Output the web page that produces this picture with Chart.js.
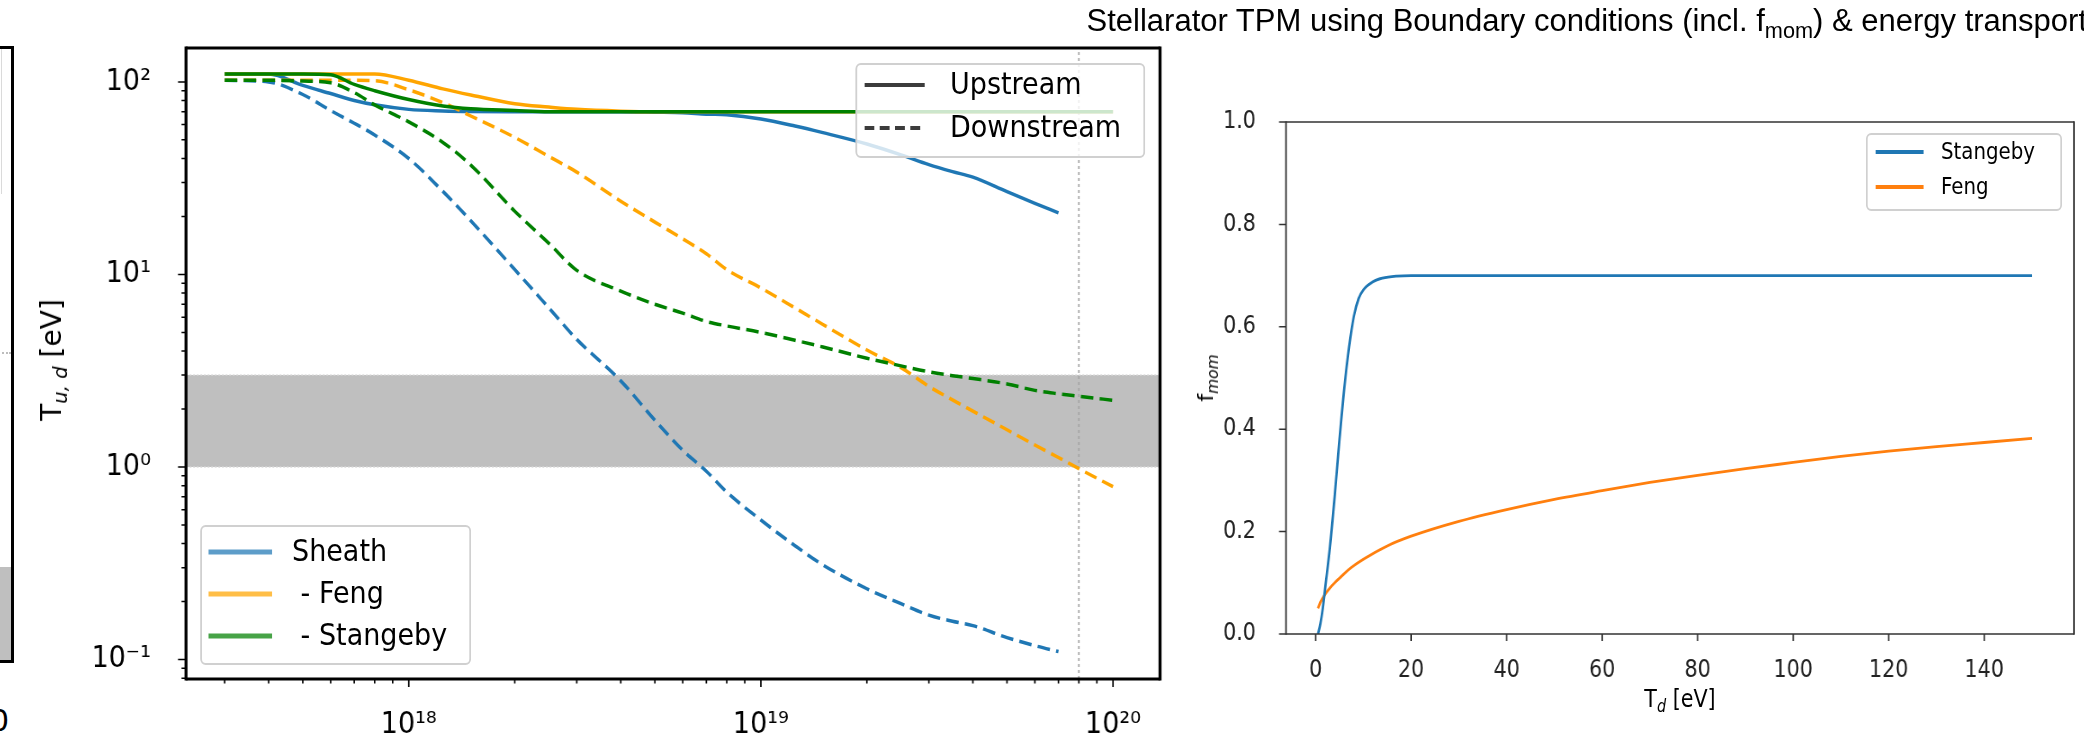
<!DOCTYPE html>
<html>
<head>
<meta charset="utf-8">
<title>Stellarator TPM</title>
<script src="https://cdn.jsdelivr.net/npm/chart.js@4.4.1/dist/chart.umd.min.js"></script>
<style>
  html, body { margin: 0; padding: 0; background: #fff; }
  body { position: relative; width: 2084px; height: 737px; overflow: hidden; font-family: "DejaVu Sans", sans-serif; color: #000; }
  .panel { position: absolute; top: 0; height: 737px; transform-origin: 0 0; }
  .panel canvas { position: absolute; left: 0; top: 0; }
  .txt { position: absolute; white-space: pre; line-height: 1; }
  .lgbox { position: absolute; box-sizing: border-box; border: 2px solid #d0d0d0; border-radius: 6px; background: rgba(255,255,255,0.8); }
  .rot { position: absolute; white-space: pre; line-height: 1; transform: translate(-50%, -50%) rotate(-90deg); }
  sub { font-size: 70%; vertical-align: -0.3em; line-height: 0; }
  #left-frame { position: absolute; left: -120px; top: 46px; width: 134px; height: 617px; box-sizing: border-box; border: 3px solid #000; overflow: hidden; }
  #title { position: absolute; right: -3px; top: 2px; font-family: "Liberation Sans", Arial, sans-serif; font-size: 31px; white-space: pre; line-height: 1.2; }
</style>
</head>
<body>

<div id="left-frame">
  <div style="position:absolute;left:0;right:0;top:518px;bottom:0;background:#bfbfbf"></div>
  <div style="position:absolute;left:0;right:0;top:303px;border-top:2px dotted #bdbdbd"></div>
  <div style="position:absolute;left:0;width:118px;top:0;height:145px;border-right:1.5px solid #dadada"></div>
</div>
<div class="txt" style="left:-10px;top:706px;font-size:30px">0</div>

<div class="panel" id="mid"><canvas id="midChart"></canvas></div>
<div class="panel" id="right"><canvas id="rightChart"></canvas></div>

<div class="rot" style="left:52px;top:360px;font-size:28px">T<sub><i>u, d</i></sub> [eV]</div>
<div class="rot" style="left:1206px;top:378px;font-size:22px">f<sub><i>mom</i></sub></div>
<div id="title">Stellarator TPM using Boundary conditions (incl. f<sub>mom</sub>) &amp; energy transport</div>

<script>
// ---------- left chart: upstream / downstream temperature vs density ----------
const densities    = [3e17, 4e17, 5e17, 6e17, 7e17, 8e17, 1e18, 1.25e18, 1.5e18, 2e18,
                      2.5e18, 3e18, 4e18, 5e18, 6e18, 7e18, 8e18, 1e19, 1.25e19, 1.5e19,
                      2e19, 2.5e19, 3e19, 3.5e19, 4e19, 5e19, 6e19, 7e19, 8e19, 1e20];
const sheathUp     = [110, 110, 96, 87, 80, 76, 72, 70.7, 70.2, 70,
                      70, 70, 70, 69.6, 69.2, 68, 67.5, 64.2, 59, 54.5,
                      47.6, 41.8, 37.2, 34.2, 32, 26.9, 23.4, 20.9, null, null];
const sheathDown   = [102, 100, 86, 71, 61, 53, 40, 27, 19, 10.6,
                      6.7, 4.6, 2.8, 1.75, 1.22, 0.95, 0.74, 0.53, 0.39, 0.31,
                      0.233, 0.195, 0.17, 0.158, 0.15, 0.13, 0.118, 0.11, null, null];
const fengUp       = [110, 110, 110, 110, 110, 110, 102, 92, 85.5, 77,
                      74, 72, 70.5, 70, 70, 70, 70, 70, 70, 70,
                      70, 70, 70, 70, 70, 70, 70, 70, 70, 70];
const fengDown     = [102, 102, 102, 102, 102, 101.5, 91, 78, 66.5, 51.5,
                      41, 34, 24, 18.7, 15.3, 12.8, 10.6, 8.5, 6.7, 5.5,
                      4.05, 3.28, 2.62, 2.23, 1.95, 1.56, 1.3, 1.12, 0.98, 0.79];
const stangebyUp   = [110, 110, 110, 109, 97, 90, 81, 75, 72.5, 71,
                      70, 70, 70, 70, 70, 70, 70, 70, 70, 70,
                      70, 70, 70, 70, 70, 70, 70, 70, 70, 70];
const stangebyDown = [102, 102, 101, 99, 88, 76, 62, 48.5, 37, 21.3,
                      14.5, 10.5, 8.2, 7, 6.3, 5.7, 5.4, 5.0, 4.55, 4.2,
                      3.67, 3.35, 3.12, 2.98, 2.88, 2.7, 2.5, 2.4, 2.33, 2.22];
const detachBand   = [1, 3];          // shaded T range
const markerDensity = 8e19;           // dotted vertical line
const midXRange = [2.33e17, 1.36e20];
const midYRange = [0.0792, 150];
const midXTicks = [1e18, 1e19, 1e20];
const midXTickLabels = ['10\u00b9\u2078', '10\u00b9\u2079', '10\u00b2\u2070'];
const midYTicks = [0.1, 1, 10, 100];
const midYTickLabels = ['10\u207b\u00b9', '10\u2070', '10\u00b9', '10\u00b2'];

// ---------- right chart: f_mom vs T_d ----------
const stangebyT = [0.5, 1, 1.5, 2, 3, 4, 5, 6, 7, 8, 9, 10, 12, 14, 17, 20, 40, 80, 120, 150];
const stangebyF = [0.0, 0.02, 0.05, 0.09, 0.17, 0.27, 0.38, 0.48, 0.56, 0.62, 0.655, 0.672, 0.688, 0.695, 0.699, 0.7, 0.7, 0.7, 0.7, 0.7];
const fengT = [0.5, 1, 2, 3, 4, 5, 6, 7.5, 10, 15, 20, 30, 40, 50, 60, 70, 80, 90, 100, 110, 120, 130, 140, 150];
const fengF = [0.05, 0.062, 0.078, 0.09, 0.1, 0.109, 0.118, 0.13, 0.146, 0.172, 0.191, 0.22, 0.243, 0.263, 0.28, 0.296, 0.31, 0.323, 0.335, 0.347, 0.357, 0.366, 0.374, 0.382];
const rightXRange = [-6.2, 158.8];
const rightXTicks = [0, 20, 40, 60, 80, 100, 120, 140];
const rightYTicks = [0, 0.2, 0.4, 0.6, 0.8, 1.0];
const rightYTickLabels = ['0.0', '0.2', '0.4', '0.6', '0.8', '1.0'];

// ---------- layout (page pixels) ----------
const MID = { left: 40, width: 1150, squeeze: 0.9, area: { left: 186, right: 1160, top: 48, bottom: 679 } };
const RIGHT = { left: 1190, width: 894, squeeze: 0.86, area: { left: 1286, right: 2074, top: 122, bottom: 634 } };

const C0 = '#1f77b4', ORANGE = '#ffa500', GREEN = '#008000';
const DASH = [14, 7];
const LW = 3.5;

function setupPanel(p, id) {
  const el = document.getElementById(id);
  p.el = el;
  p.w = Math.round(p.width / p.squeeze);
  p.ux = x => (x - p.left) / p.squeeze;
  el.style.left = p.left + 'px';
  el.style.width = p.w + 'px';
  el.style.transform = 'scaleX(' + p.squeeze + ')';
  const cv = el.querySelector('canvas');
  cv.width = p.w; cv.height = 737;
  cv.style.width = p.w + 'px'; cv.style.height = '737px';
  return cv;
}

function logTicks(min, max) {
  const out = [];
  for (let e = Math.floor(Math.log10(min)); e <= Math.ceil(Math.log10(max)); e++) {
    for (let k = 1; k <= 9; k++) {
      const v = k * Math.pow(10, e);
      if (v >= min && v <= max) out.push({ value: v, major: k === 1 });
    }
  }
  return out;
}

function pickLabel(v, vals, labels) {
  const i = vals.findIndex(m => Math.abs(m - v) <= Math.abs(m) * 1e-9 + 1e-12);
  return i >= 0 ? labels[i] : '';
}

function noPad(s) { s.paddingTop = s.paddingBottom = s.paddingLeft = s.paddingRight = 0; }

// matplotlib-like frame and tick marks
const mplFrame = {
  id: 'mplFrame',
  afterDatasetsDraw(chart, args, o) {
    const { ctx, chartArea: a } = chart;
    const x = chart.scales.x, y = chart.scales.y;
    ctx.save();
    ctx.strokeStyle = o.color;
    ctx.lineWidth = o.tickWidth / o.squeeze;
    ctx.beginPath();
    x.ticks.forEach(t => {
      const px = x.getPixelForValue(t.value);
      const len = t.major ? o.major : o.minor;
      ctx.moveTo(px, a.bottom); ctx.lineTo(px, a.bottom + len);
    });
    ctx.stroke();
    ctx.lineWidth = o.tickWidth;
    ctx.beginPath();
    y.ticks.forEach(t => {
      const py = y.getPixelForValue(t.value);
      const len = (t.major ? o.major : o.minor) / o.squeeze;
      ctx.moveTo(a.left, py); ctx.lineTo(a.left - len, py);
    });
    ctx.stroke();
    ctx.lineWidth = o.frame;
    ctx.beginPath();
    ctx.moveTo(a.left, a.top); ctx.lineTo(a.right, a.top);
    ctx.moveTo(a.left, a.bottom); ctx.lineTo(a.right, a.bottom);
    ctx.stroke();
    ctx.lineWidth = o.frame / o.squeeze;
    ctx.beginPath();
    ctx.moveTo(a.left, a.top - o.frame / 2); ctx.lineTo(a.left, a.bottom + o.frame / 2);
    ctx.moveTo(a.right, a.top - o.frame / 2); ctx.lineTo(a.right, a.bottom + o.frame / 2);
    ctx.stroke();
    ctx.restore();
  }
};

function line(xs, ys, color, dash, width, order) {
  return {
    data: xs.map((x, i) => ({ x: x, y: ys[i] })),
    borderColor: color, borderWidth: width, borderDash: dash || [],
    pointRadius: 0, fill: false, cubicInterpolationMode: 'monotone',
    spanGaps: false, order: order
  };
}

function addLegend(p, box, rows, fontSize) {
  const lg = document.createElement('div');
  lg.className = 'lgbox';
  lg.style.left = p.ux(box.x0) + 'px';
  lg.style.top = box.y0 + 'px';
  lg.style.width = (p.ux(box.x1) - p.ux(box.x0)) + 'px';
  lg.style.height = (box.y1 - box.y0) + 'px';
  p.el.appendChild(lg);
  rows.forEach(r => {
    const w = p.ux(box.s1) - p.ux(box.s0);
    const svg = document.createElementNS('http://www.w3.org/2000/svg', 'svg');
    svg.setAttribute('width', w); svg.setAttribute('height', 10);
    svg.style.position = 'absolute';
    svg.style.left = p.ux(box.s0) + 'px';
    svg.style.top = (r.y - 5) + 'px';
    const ln = document.createElementNS('http://www.w3.org/2000/svg', 'line');
    ln.setAttribute('x1', 0); ln.setAttribute('x2', w);
    ln.setAttribute('y1', 5); ln.setAttribute('y2', 5);
    ln.setAttribute('stroke', r.color); ln.setAttribute('stroke-width', r.width);
    if (r.dash) ln.setAttribute('stroke-dasharray', r.dash);
    svg.appendChild(ln);
    p.el.appendChild(svg);
    const t = document.createElement('div');
    t.className = 'txt';
    t.textContent = r.text;
    t.style.fontSize = fontSize + 'px';
    t.style.left = p.ux(box.t0) + 'px';
    t.style.top = r.y + 'px';
    t.style.transform = 'translateY(-52%)';
    p.el.appendChild(t);
  });
}

function addText(p, html, x, y, fontSize) {
  const t = document.createElement('div');
  t.className = 'txt';
  t.innerHTML = html;
  t.style.fontSize = fontSize + 'px';
  t.style.left = p.ux(x) + 'px';
  t.style.top = y + 'px';
  t.style.transform = 'translate(-50%, -50%)';
  p.el.appendChild(t);
}

Chart.defaults.font.family = '"DejaVu Sans", sans-serif';
Chart.defaults.color = '#000';

// ---------- middle chart ----------
const midCanvas = setupPanel(MID, 'mid');
const bandData = v => [{ x: midXRange[0], y: v }, { x: midXRange[1], y: v }];
new Chart(midCanvas, {
  type: 'line',
  data: {
    datasets: [
      line(densities, stangebyUp, GREEN, [], LW, 1),
      line(densities, stangebyDown, GREEN, DASH, LW, 2),
      line(densities, fengUp, ORANGE, [], LW, 3),
      line(densities, fengDown, ORANGE, DASH, LW, 4),
      line(densities, sheathUp, C0, [], LW, 5),
      line(densities, sheathDown, C0, DASH, LW, 6),
      { data: [{ x: markerDensity, y: midYRange[0] }, { x: markerDensity, y: midYRange[1] }],
        borderColor: '#a6a6a6', borderWidth: 1.7, borderDash: [3, 3], pointRadius: 0, fill: false, order: 10 },
      { data: bandData(detachBand[1]), borderColor: '#d6d6d6', borderWidth: 1.5, borderDash: [2, 2],
        backgroundColor: '#bfbfbf', fill: '+1', pointRadius: 0, order: 20 },
      { data: bandData(detachBand[0]), borderColor: '#d6d6d6', borderWidth: 1.5, borderDash: [2, 2],
        pointRadius: 0, fill: false, order: 19 }
    ]
  },
  options: {
    responsive: false, animation: false, devicePixelRatio: 1, events: [],
    layout: { padding: { left: 0, right: MID.w - MID.ux(MID.area.right), top: MID.area.top, bottom: 0 } },
    plugins: {
      legend: { display: false }, tooltip: { enabled: false },
      mplFrame: { color: '#000', frame: 3, tickWidth: 1.5, major: 8, minor: 4.5, squeeze: MID.squeeze }
    },
    scales: {
      x: {
        type: 'logarithmic', min: midXRange[0], max: midXRange[1],
        grid: { display: false }, border: { display: false },
        afterBuildTicks: s => { s.ticks = logTicks(s.min, s.max); },
        afterFit: s => { s.height = 737 - MID.area.bottom; noPad(s); },
        ticks: { autoSkip: false, maxRotation: 0, padding: 20, font: { size: 30 },
                 callback: v => pickLabel(v, midXTicks, midXTickLabels) }
      },
      y: {
        type: 'logarithmic', min: midYRange[0], max: midYRange[1],
        grid: { display: false }, border: { display: false },
        afterBuildTicks: s => { s.ticks = logTicks(s.min, s.max); },
        afterFit: s => { s.width = MID.ux(MID.area.left); noPad(s); },
        ticks: { autoSkip: false, padding: 31, font: { size: 30 },
                 callback: v => pickLabel(v, midYTicks, midYTickLabels) }
      }
    }
  },
  plugins: [mplFrame]
});

addLegend(MID, { x0: 855, x1: 1145, y0: 63, y1: 158, s0: 864, s1: 925, t0: 950 }, [
  { text: 'Upstream', color: '#3c3c3c', width: 4, y: 85 },
  { text: 'Downstream', color: '#3c3c3c', width: 4, dash: '11 6', y: 128 }
], 30);
addLegend(MID, { x0: 200, x1: 471, y0: 525, y1: 665, s0: 208, s1: 272, t0: 292 }, [
  { text: 'Sheath', color: 'rgba(31,119,180,0.72)', width: 5, y: 552 },
  { text: ' - Feng', color: 'rgba(255,165,0,0.72)', width: 5, y: 594 },
  { text: ' - Stangeby', color: 'rgba(0,128,0,0.72)', width: 5, y: 636 }
], 30);

// ---------- right chart ----------
const rightCanvas = setupPanel(RIGHT, 'right');
new Chart(rightCanvas, {
  type: 'line',
  data: {
    datasets: [
      line(stangebyT, stangebyF, '#1f77b4', [], 2.8, 1),
      line(fengT, fengF, '#ff7f0e', [], 2.8, 2)
    ]
  },
  options: {
    responsive: false, animation: false, devicePixelRatio: 1, events: [],
    layout: { padding: { left: 0, right: RIGHT.w - RIGHT.ux(RIGHT.area.right), top: RIGHT.area.top, bottom: 0 } },
    plugins: {
      legend: { display: false }, tooltip: { enabled: false },
      mplFrame: { color: '#333', frame: 1.6, tickWidth: 1.5, major: 7, minor: 7, squeeze: RIGHT.squeeze }
    },
    scales: {
      x: {
        type: 'linear', min: rightXRange[0], max: rightXRange[1],
        grid: { display: false }, border: { display: false },
        afterBuildTicks: s => { s.ticks = rightXTicks.map(v => ({ value: v, major: true })); },
        afterFit: s => { s.height = 737 - RIGHT.area.bottom; noPad(s); },
        ticks: { autoSkip: false, maxRotation: 0, padding: 14, color: '#222', font: { size: 24 },
                 callback: v => String(v) }
      },
      y: {
        type: 'linear', min: 0, max: 1,
        grid: { display: false }, border: { display: false },
        afterBuildTicks: s => { s.ticks = rightYTicks.map(v => ({ value: v, major: true })); },
        afterFit: s => { s.width = RIGHT.ux(RIGHT.area.left); noPad(s); },
        ticks: { autoSkip: false, padding: 27, color: '#222', font: { size: 24 },
                 callback: v => pickLabel(v, rightYTicks, rightYTickLabels) }
      }
    }
  },
  plugins: [mplFrame]
});

addLegend(RIGHT, { x0: 1866, x1: 2062, y0: 133, y1: 211, s0: 1875, s1: 1924, t0: 1941 }, [
  { text: 'Stangeby', color: '#1f77b4', width: 4, y: 152 },
  { text: 'Feng', color: '#ff7f0e', width: 4, y: 187 }
], 23);
addText(RIGHT, 'T<sub><i>d</i></sub> [eV]', 1680, 699, 24);
</script>
</body>
</html>
